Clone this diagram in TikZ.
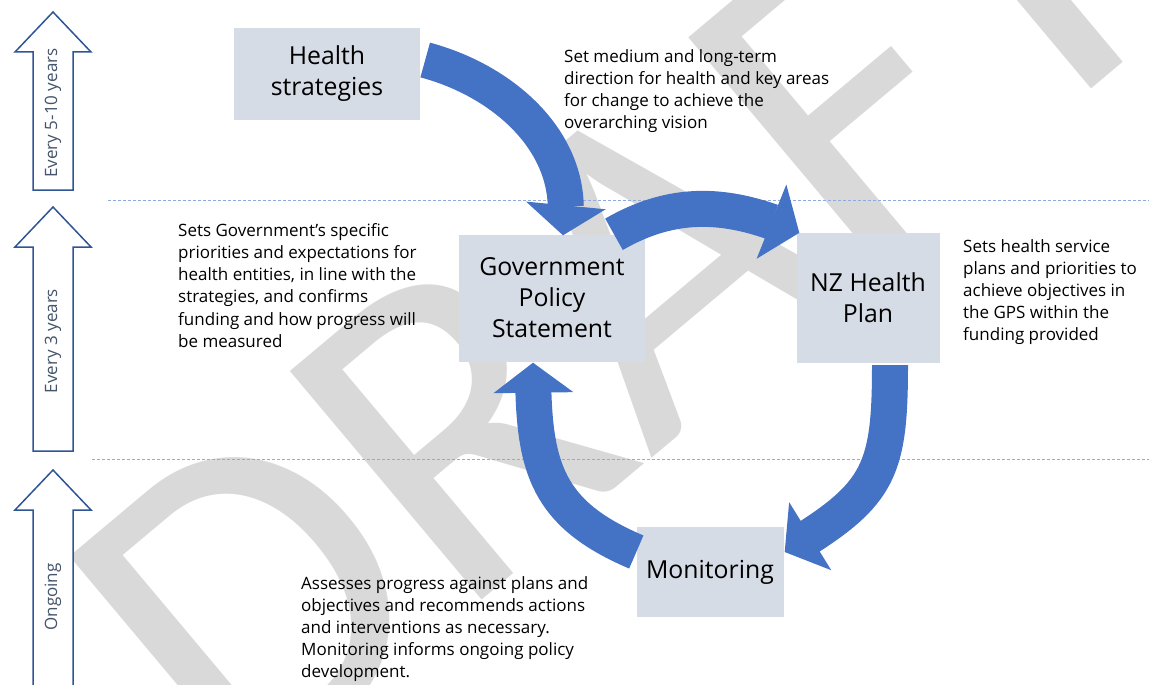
\documentclass[tikz,border=0pt]{standalone}
\usepackage{fontspec}
\setmainfont{Open Sans}
\newfontfamily\wmfont{Carlito}
\usetikzlibrary{arrows.meta, bending}
\definecolor{boxgrey}{RGB}{214,220,229}
\definecolor{flowblue}{RGB}{68,114,196}
\definecolor{rimblue}{RGB}{47,85,151}
\definecolor{labelgrey}{RGB}{68,84,106}
\definecolor{wmgrey}{RGB}{217,217,217}
\definecolor{sepblue}{RGB}{143,170,220}

\begin{document}
\begin{tikzpicture}[x=1pt, y=-1pt,
    stage/.style={fill=boxgrey, align=center, inner sep=0pt, font=\fontsize{24.8}{31}\selectfont},
    note/.style={anchor=north west, align=left, inner sep=0pt, font=\fontsize{17}{22.2}\selectfont},
    flow/.style={line width=36pt, flowblue, -{Triangle[length=30pt, width=80pt, line width=0pt]}},
    timeline/.style={draw=rimblue, line width=1.5pt, fill=white},
    sep/.style={sepblue, line width=1pt, dash pattern=on 3pt off 2pt}]

    \useasboundingbox (0,0) rectangle (1149,685);

    % Draw watermark
    \begin{scope}
        \clip (0,0) rectangle (1149,685);
        \node[text=wmgrey, rotate=40, font=\wmfont\fontsize{465}{465}\selectfont] (wm) at (620,290) {DRAFT};
    \end{scope}

    % Draw separators
    \draw[sep] (108,200) -- (1149,200);
    \draw[sep] (92,459) -- (1149,459);

    % Draw time arrows
    \foreach \tip/\bot/\lab/\name in {12/190/Every 5-10 years/tenyr, 207/451/Every 3 years/threeyr, 470/700/Ongoing/ongoing} {
        \draw[timeline] (33,\bot) -- (33,{\tip+40}) -- (15,{\tip+40}) -- (53,\tip)
            -- (91,{\tip+40}) -- (73,{\tip+40}) -- (73,\bot) -- cycle;
        \node[rotate=90, text=labelgrey, font=\fontsize{17}{20}\selectfont] (\name) at (53,{(\tip+40+\bot)/2-8}) {\lab};
    }

    % Draw stages
    \node[stage, minimum width=186pt, minimum height=92pt] (hs) at (327,74) {Health\\strategies};
    \node[stage, minimum width=186pt, minimum height=127pt] (gps) at (552,298) {Government\\Policy\\Statement};
    \node[stage, minimum width=143pt, minimum height=130pt] (nzhp) at (868,298) {NZ Health\\Plan};
    \node[stage, minimum width=147pt, minimum height=90pt] (mon) at (710,572) {Monitoring};

    % Draw notes
    \node[note] (hsnote) at (564,49) {Set medium and long-term\\direction for health and key areas\\for change to achieve the\\overarching vision};
    \node[note] (gpsnote) at (178,223) {Sets Government’s specific\\priorities and expectations for\\health entities, in line with the\\strategies, and confirms\\funding and how progress will\\be measured};
    \node[note] (nzhpnote) at (963,239) {Sets health service\\plans and priorities to\\achieve objectives in\\the GPS within the\\funding provided};
    \node[note] (monnote) at (301,576) {Assesses progress against plans and\\objectives and recommends actions\\and interventions as necessary.\\Monitoring informs ongoing policy\\development.};

    % Draw flows
    \draw[flow] ([shift={(5,-14)}]hs.east) to[out=-15, in=78] ([shift={(11,1)}]gps.north);
    \draw[flow] ([shift={(62,0)}]gps.north) to[out=30, in=156] ([shift={(3,0)}]nzhp.north west);
    \draw[flow] ([shift={(22,2)}]nzhp.south) to[out=-90, in=31, looseness=1.3] ([shift={(1,-20)}]mon.east);
    \draw[flow] ([shift={(0,-20)}]mon.west) to[out=157, in=-90, looseness=1.2] ([shift={(-19,1)}]gps.south);
\end{tikzpicture}
\end{document}
